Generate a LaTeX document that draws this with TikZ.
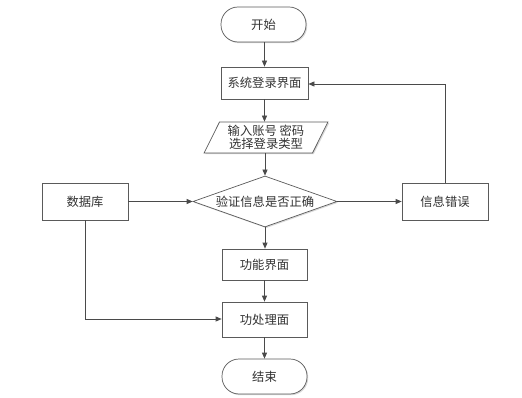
\documentclass[tikz,border=0pt]{standalone}
\usepackage{fontspec}
\setmainfont{Noto Sans CJK SC}
\usetikzlibrary{shapes.geometric,arrows.meta,shadows}
\definecolor{ln}{HTML}{4A4A4A}
\definecolor{bd}{HTML}{5A5A5A}
\definecolor{tx}{HTML}{333333}
\tikzset{
  base/.style={draw=bd, line width=0.7pt, fill=white, text=tx, font=\fontsize{12.3}{15}\selectfont,
    drop shadow={shadow xshift=1.2pt, shadow yshift=-1.2pt, fill=black!25, opacity=0.6}},
  procbox/.style={base, rectangle, minimum width=86pt, minimum height=33pt, inner sep=0pt},
  termbox/.style={base, rectangle, rounded corners=17pt, minimum width=85pt, minimum height=35pt, inner sep=0pt},
  iobox/.style={base, trapezium, trapezium left angle=63, trapezium right angle=117, minimum width=124pt, minimum height=31pt, inner sep=0pt, trapezium stretches=true, align=center},
  decbox/.style={base, diamond, aspect=2.8, minimum width=144pt, minimum height=51pt, inner sep=0pt},
  conn/.style={draw=ln, line width=0.7pt, -{Triangle[length=6pt,width=5pt]}},
}
\begin{document}
\begin{tikzpicture}[x=1pt,y=-1pt]
\useasboundingbox (0,0) rectangle (522,398);
\node[termbox] (start) at (263.5,24.5) {开始};
\node[procbox, minimum height=32pt, minimum width=87pt] (login) at (264.5,83) {系统登录界面};
\node[iobox] (input) at (266,137.5) {输入账号 密码\\[-1.5pt]选择登录类型};
\node[decbox] (check) at (265,201.5) {验证信息是否正确};
\node[procbox, minimum height=37pt] (db) at (85,201.5) {数据库};
\node[procbox, minimum height=37pt] (err) at (445,201.5) {信息错误};
\node[procbox, minimum height=31pt, minimum width=85pt] (func) at (264.5,264.5) {功能界面};
\node[procbox, minimum height=35pt, minimum width=85pt] (proc) at (264.5,319.5) {功处理面};
\node[termbox] (end) at (264.5,376.5) {结束};
\coordinate (c1) at (445,84);
\coordinate (c2) at (85,319);
\draw[conn] (start.south -| login.north) -- (login.north);
\draw[conn] (login.south) -- (login.south |- input.north);
\draw[conn] (input.south -| check.north) -- (check.north);
\draw[conn] (db.east) -- (check.west);
\draw[conn] (check.east) -- (err.west);
\draw[conn] (err.north) -- (c1) -- (c1 -| login.east);
\draw[conn] (check.south) -- (check.south |- func.north);
\draw[conn] (func.south) -- (proc.north);
\draw[conn] (db.south) -- (c2) -- (c2 -| proc.west);
\draw[conn] (proc.south) -- (end.north);
\end{tikzpicture}
\end{document}
